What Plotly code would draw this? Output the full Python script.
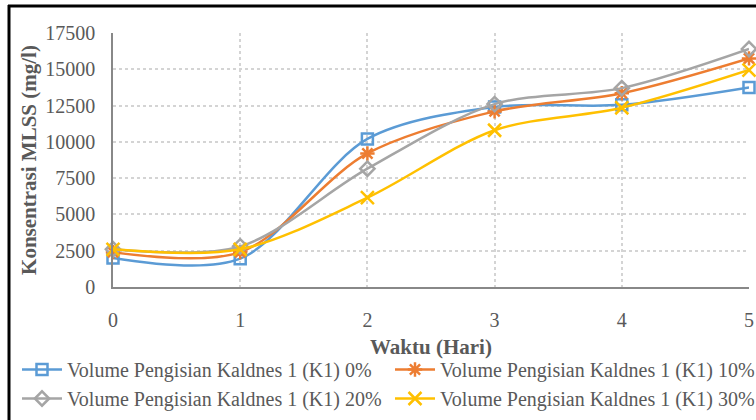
import plotly.graph_objects as go

days = [0, 1, 2, 3, 4, 5]
k1_0 = [2000, 1950, 10200, 12400, 12550, 13750]
k1_10 = [2400, 2400, 9200, 12100, 13350, 15750]
k1_20 = [2600, 2800, 8150, 12600, 13700, 16400]
k1_30 = [2600, 2600, 6150, 10800, 12350, 14950]
names = [
    "Volume Pengisian Kaldnes 1 (K1) 0%",
    "Volume Pengisian Kaldnes 1 (K1) 10%",
    "Volume Pengisian Kaldnes 1 (K1) 20%",
    "Volume Pengisian Kaldnes 1 (K1) 30%",
]
colors = ["#5B9BD5", "#ED7D31", "#A5A5A5", "#FFC000"]
symbols = ["square-open", "asterisk-open", "diamond-open", "x-thin-open"]
sizes = [11, 12, 11, 13]
legends = ["legend", "legend2", "legend", "legend2"]
series = [k1_0, k1_10, k1_20, k1_30]

fig = go.Figure()
for nm, ys, c, s, sz, lg in zip(names, series, colors, symbols, sizes, legends):
    fig.add_trace(go.Scatter(
        x=days, y=ys, name=nm, mode="lines+markers",
        line=dict(color=c, width=2.5, shape="spline", smoothing=0.9),
        marker=dict(symbol=s, size=sz, color=c, line=dict(color=c, width=2.5)),
        cliponaxis=False, legend=lg,
    ))

font_fam = "Liberation Serif"
txt = "#595959"
L, R, T, B = 113, 7, 33, 133
W, H = 756, 420
pw, ph = W - L - R, H - T - B

def px_x(p):
    return (p - L) / pw

def px_y(p):
    return (H - B - p) / ph

leg_common = dict(
    orientation="v", yanchor="top", xanchor="left",
    font=dict(family=font_fam, size=20, color=txt),
    itemwidth=40, tracegroupgap=0, bgcolor="rgba(0,0,0,0)",
    borderwidth=0,
)

fig.update_layout(
    width=W, height=H,
    margin=dict(l=L, r=R, t=T, b=B, autoexpand=False),
    paper_bgcolor="white", plot_bgcolor="white",
    font=dict(family=font_fam, size=20, color=txt),
    showlegend=True,
    legend=dict(x=px_x(17), y=px_y(350), **leg_common),
    legend2=dict(x=px_x(390), y=px_y(350), **leg_common),
    xaxis=dict(
        range=[0, 5], tickvals=days, showgrid=True, gridcolor="#D4D4D4",
        griddash="dot", gridwidth=1.5, zeroline=False,
        showline=True, linecolor="#888888", linewidth=1.5,
        ticks="outside", ticklen=14, tickcolor="rgba(0,0,0,0)",
        title=dict(text="<b>Waktu (Hari)</b>", font=dict(family=font_fam, size=21, color=txt), standoff=10),
    ),
    yaxis=dict(
        range=[0, 17500], dtick=2500, showgrid=True, gridcolor="#D4D4D4",
        griddash="dot", gridwidth=1.5, zeroline=False,
        showline=True, linecolor="#888888", linewidth=1.5,
        ticks="outside", ticklen=12, tickcolor="rgba(0,0,0,0)",
        tickformat="d",
        title=dict(text="<b>Konsentrasi MLSS (mg/l)</b>", font=dict(family=font_fam, size=21, color=txt), standoff=3),
    ),
    shapes=[
        dict(type="line", xref="paper", yref="paper",
             x0=px_x(8), x1=px_x(760), y0=px_y(6), y1=px_y(6),
             line=dict(color="black", width=3), layer="above"),
        dict(type="line", xref="paper", yref="paper",
             x0=px_x(9), x1=px_x(9), y0=px_y(5), y1=px_y(430),
             line=dict(color="black", width=3), layer="above"),
    ],
)

fig.write_html("out.html")
